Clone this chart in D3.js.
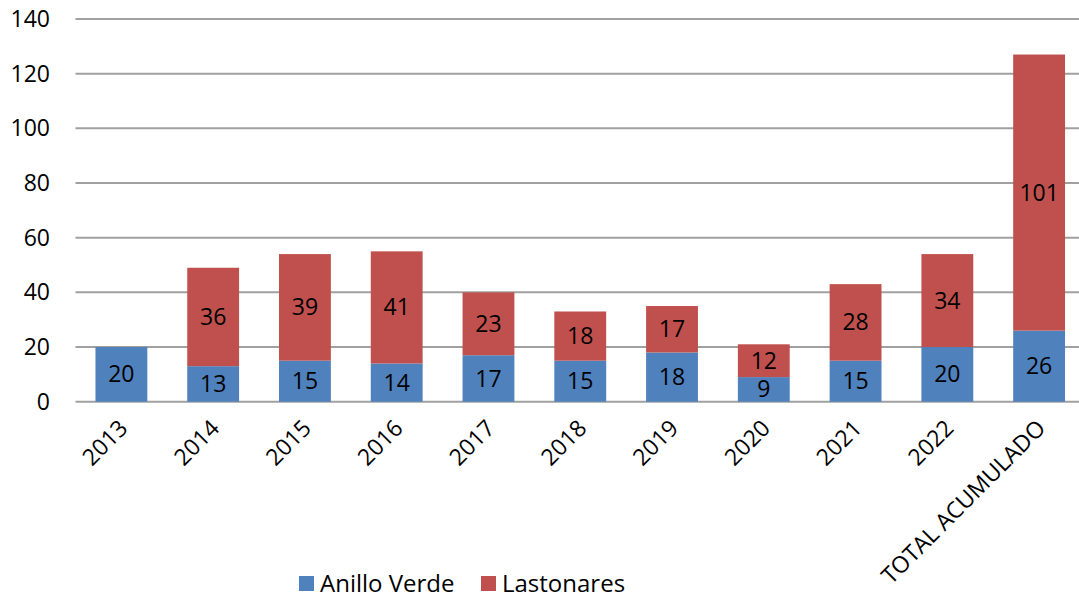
<!DOCTYPE html>
<html>
<head>
<meta charset="utf-8">
<script src="https://cdn.jsdelivr.net/npm/d3@7"></script>
<style>
  body { margin: 0; background: #fff; }
  text { font-family: "Open Sans", sans-serif; fill: #000; }
</style>
</head>
<body>
<svg width="1079" height="598"></svg>
<script>
var categories = ["2013", "2014", "2015", "2016", "2017", "2018", "2019", "2020", "2021", "2022", "TOTAL ACUMULADO"];
var anilloVerde = [20, 13, 15, 14, 17, 15, 18, 9, 15, 20, 26];
var lastonares = [0, 36, 39, 41, 23, 18, 17, 12, 28, 34, 101];
var seriesNames = ["Anillo Verde", "Lastonares"];
var colors = ["#4F81BD", "#C0504D"];
var yTicks = [0, 20, 40, 60, 80, 100, 120, 140];

var svg = d3.select("svg");
var plotLeft = 75.5, plotRight = 1085, plotTop = 19, plotBottom = 401.7;

var x = d3.scaleBand()
    .domain(categories)
    .range([plotLeft, plotRight])
    .paddingInner(0.435)
    .paddingOuter(0.2175);

var y = d3.scaleLinear()
    .domain([0, 140])
    .range([plotBottom, plotTop]);

var rows = categories.map(function (c, i) {
    return { cat: c, "Anillo Verde": anilloVerde[i], "Lastonares": lastonares[i] };
});
var stacked = d3.stack().keys(seriesNames)(rows);

// gridlines
svg.append("g")
    .selectAll("line")
    .data(yTicks)
    .enter().append("line")
    .attr("x1", plotLeft)
    .attr("x2", 1079)
    .attr("y1", function (d) { return y(d); })
    .attr("y2", function (d) { return y(d); })
    .attr("stroke", "#a0a0a0")
    .attr("stroke-width", 2);

// y tick labels
svg.append("g")
    .selectAll("text")
    .data(yTicks)
    .enter().append("text")
    .attr("x", 50)
    .attr("y", function (d) { return y(d); })
    .attr("dy", "0.35em")
    .attr("text-anchor", "end")
    .style("font-size", "23px")
    .text(function (d) { return d; });

// bars
var layers = svg.append("g")
    .selectAll("g")
    .data(stacked)
    .enter().append("g")
    .attr("fill", function (d, i) { return colors[i]; });

layers.selectAll("rect")
    .data(function (d) { return d.filter(function (p) { return p[1] - p[0] > 0; }); })
    .enter().append("rect")
    .attr("x", function (d) { return x(d.data.cat); })
    .attr("width", x.bandwidth())
    .attr("y", function (d) { return y(d[1]); })
    .attr("height", function (d) { return y(d[0]) - y(d[1]); });

layers.selectAll("text")
    .data(function (d) { return d.filter(function (p) { return p[1] - p[0] > 0; }); })
    .enter().append("text")
    .attr("x", function (d) { return x(d.data.cat) + x.bandwidth() / 2; })
    .attr("y", function (d) { return y((d[0] + d[1]) / 2); })
    .attr("dy", "0.35em")
    .attr("text-anchor", "middle")
    .style("font-size", "23px")
    .text(function (d) { return d[1] - d[0]; });

// x labels
svg.append("g")
    .selectAll("text")
    .data(categories)
    .enter().append("text")
    .attr("transform", function (d) {
        return "translate(" + (x(d) + x.bandwidth() / 2 + 2) + "," + 424 + ") rotate(-45)";
    })
    .attr("text-anchor", "end")
    .attr("dy", "0.35em")
    .style("font-size", "23px")
    .text(function (d) { return d; });

// legend
var legendX = [299, 481];
var legend = svg.append("g")
    .selectAll("g")
    .data(seriesNames)
    .enter().append("g")
    .attr("transform", function (d, i) { return "translate(" + legendX[i] + ",576)"; });

legend.append("rect")
    .attr("width", 15)
    .attr("height", 15)
    .attr("fill", function (d, i) { return colors[i]; });

legend.append("text")
    .attr("x", 21)
    .attr("y", 7.5)
    .attr("dy", "0.35em")
    .style("font-size", "24px")
    .text(function (d) { return d; });
</script>
</body>
</html>
